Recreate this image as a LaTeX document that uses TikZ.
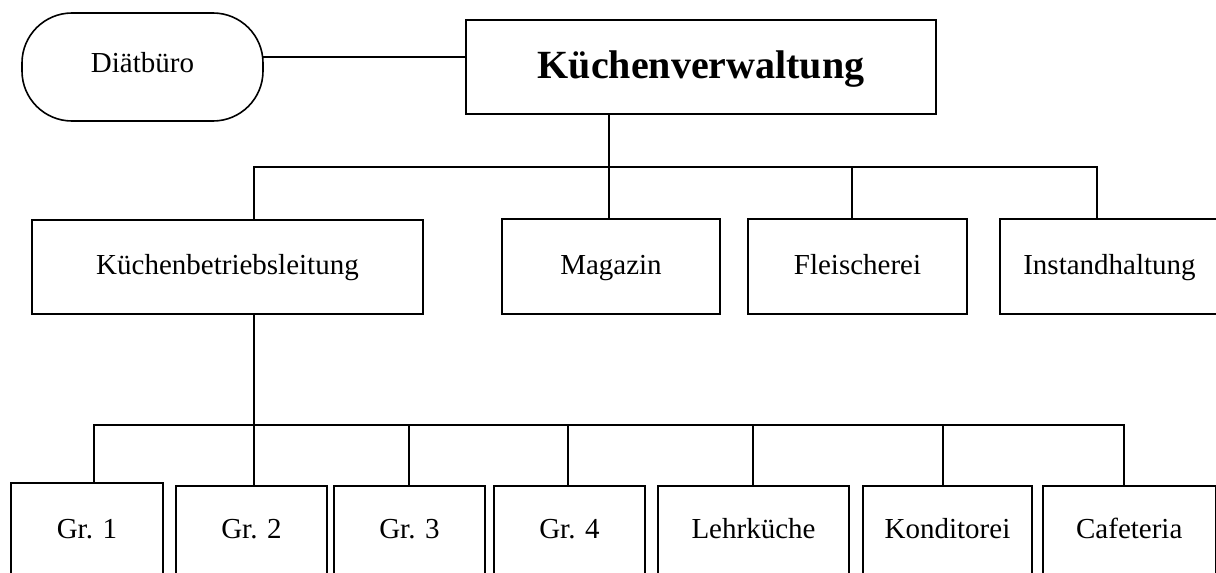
\documentclass[tikz,border=0pt]{standalone}
\usepackage{fontspec}
\setmainfont{Liberation Serif}
\begin{document}
\begin{tikzpicture}[x=0.5pt,y=-0.5pt,
  box/.style={draw, line width=0.8pt, inner sep=0pt, outer sep=0pt, anchor=north west,
    font=\fontsize{14.5}{17}\selectfont},
  topbox/.style={box, text height=27pt, text depth=20pt},
  lowbox/.style={box, text height=26pt, text depth=31pt},
  conn/.style={line width=0.8pt}]
\clip (0,0) rectangle (1216,573);
\fill[white] (0,0) rectangle (1216,573);

% top level
\node[box, rounded corners=25pt, minimum width=120.5pt, text height=29.5pt, text depth=24.5pt] (diat) at (22,13) {Diätbüro};
\node[box, font=\fontsize{20}{24}\selectfont\bfseries, minimum width=235pt, text height=29pt, text depth=18pt] (kv) at (466,20) {Küchenverwaltung};

% second level
\node[topbox, minimum width=195.5pt] (kbl) at (32,220) {Küchenbetriebsleitung};
\node[topbox, minimum width=109pt, text height=27.5pt] (mag) at (502,219) {Magazin};
\node[topbox, minimum width=109.5pt, text height=27.5pt] (fle) at (748,219) {Fleischerei};
\node[topbox, minimum width=109.5pt, text height=27.5pt] (inst) at (1000,219) {Instandhaltung};

% third level
\node[lowbox, minimum width=76pt, text height=27.5pt] (gr1) at (11,483) {Gr. 1};
\node[lowbox, minimum width=75.5pt] (gr2) at (176,486) {Gr. 2};
\node[lowbox, minimum width=75.5pt] (gr3) at (334,486) {Gr. 3};
\node[lowbox, minimum width=75.5pt] (gr4) at (494,486) {Gr. 4};
\node[lowbox, minimum width=95.5pt] (lehr) at (658,486) {Lehrküche};
\node[lowbox, minimum width=84.5pt] (kond) at (863,486) {Konditorei};
\node[lowbox, minimum width=86.25pt] (caf) at (1043,486) {Cafeteria};

% junction coordinates
\coordinate (dl) at (0,57);
\coordinate (b1l) at (254,167);
\coordinate (jm) at (609,167);
\coordinate (jf) at (852,167);
\coordinate (b1r) at (1097,167);
\coordinate (b2l) at (94,425);
\coordinate (j2) at (254,425);
\coordinate (j3) at (409,425);
\coordinate (j4) at (568,425);
\coordinate (jl) at (753,425);
\coordinate (jk) at (943,425);
\coordinate (b2r) at (1124,425);

% connectors
\draw[conn] (diat.east |- dl) -- (kv.west |- dl);
\draw[conn] (kv.south -| jm) -- (mag.north -| jm);
\draw[conn] (kbl.north -| b1l) -- (b1l) -- (b1r) -- (inst.north -| b1r);
\draw[conn] (jf) -- (fle.north -| jf);
\draw[conn] (kbl.south -| j2) -- (gr2.north -| j2);
\draw[conn] (gr1.north -| b2l) -- (b2l) -- (b2r) -- (caf.north -| b2r);
\draw[conn] (j3) -- (gr3.north -| j3);
\draw[conn] (j4) -- (gr4.north -| j4);
\draw[conn] (jl) -- (lehr.north -| jl);
\draw[conn] (jk) -- (kond.north -| jk);
\end{tikzpicture}
\end{document}
